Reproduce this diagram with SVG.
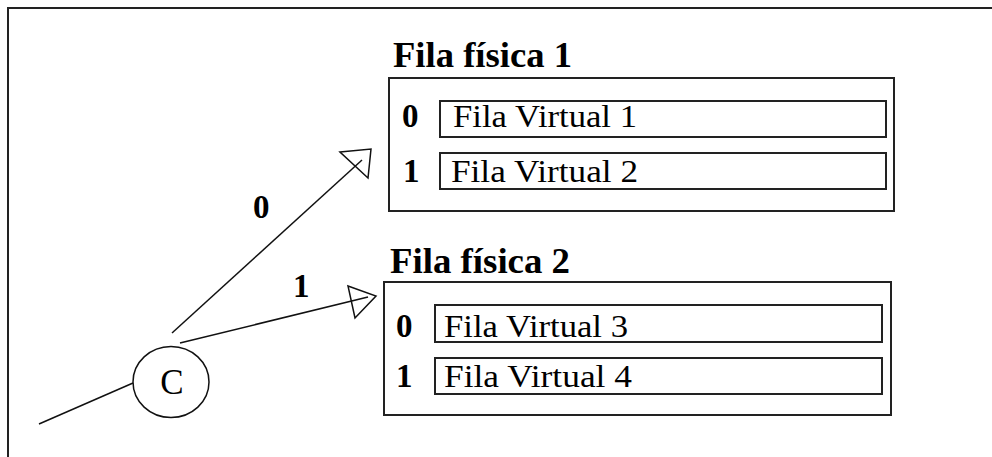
<svg xmlns="http://www.w3.org/2000/svg" width="992" height="457" viewBox="0 0 992 457">
<style>
.frame{fill:none;stroke:#222;stroke-width:2}
.box{fill:none;stroke:#222;stroke-width:2}
.cell{fill:none;stroke:#222;stroke-width:2}
.ln{fill:none;stroke:#111;stroke-width:1.5}
.head{fill:none;stroke:#111;stroke-width:1.5;stroke-linejoin:miter}
.title{font-family:"Liberation Serif",serif;font-weight:bold;font-size:35px;fill:#000}
.idx{font-family:"Liberation Serif",serif;font-weight:bold;font-size:33px;fill:#000}
.vq{font-family:"Liberation Serif",serif;font-size:31px;fill:#000}
.lbl{font-family:"Liberation Serif",serif;font-weight:bold;font-size:33px;fill:#000}
.cl{font-family:"Liberation Serif",serif;font-size:35px;fill:#000}
</style>
<rect width="992" height="457" fill="#fff"/>
<path class="frame" d="M8,457 V8 H992"/>
<g id="fisica1">
<text class="title" x="393" y="67" textLength="179" lengthAdjust="spacingAndGlyphs">Fila física 1</text>
<rect class="box" x="389" y="78" width="505" height="133"/>
<g id="virtual1">
<text class="idx" x="402" y="127">0</text>
<rect class="cell" x="440" y="101" width="446" height="36"/>
<text class="vq" x="453" y="127" textLength="184" lengthAdjust="spacingAndGlyphs">Fila Virtual 1</text>
</g>
<g id="virtual2">
<text class="idx" x="403" y="182">1</text>
<rect class="cell" x="440" y="153" width="446" height="36"/>
<text class="vq" x="451" y="182" textLength="187" lengthAdjust="spacingAndGlyphs">Fila Virtual 2</text>
</g>
</g>
<g id="fisica2">
<text class="title" x="390" y="273" textLength="180" lengthAdjust="spacingAndGlyphs">Fila física 2</text>
<rect class="box" x="384" y="282" width="507" height="133"/>
<g id="virtual3">
<text class="idx" x="396" y="337">0</text>
<rect class="cell" x="435" y="305" width="447" height="37"/>
<text class="vq" x="444" y="337" textLength="184" lengthAdjust="spacingAndGlyphs">Fila Virtual 3</text>
</g>
<g id="virtual4">
<text class="idx" x="396" y="387">1</text>
<rect class="cell" x="435" y="358" width="447" height="36"/>
<text class="vq" x="444" y="387" textLength="188" lengthAdjust="spacingAndGlyphs">Fila Virtual 4</text>
</g>
</g>
<g id="nodeC">
<ellipse class="ln" cx="171" cy="382" rx="38" ry="35.5"/>
<text class="cl" x="172" y="394" text-anchor="middle">C</text>
</g>
<g id="connectors">
<line class="ln" x1="39" y1="424" x2="133" y2="383"/>
<line class="ln" x1="172" y1="333" x2="362" y2="160"/>
<polygon class="head" points="340,152 371,149 368,178"/>
<text class="lbl" x="253" y="218">0</text>
<line class="ln" x1="180" y1="343" x2="368" y2="297"/>
<polygon class="head" points="348,286 376,296 355,318"/>
<text class="lbl" x="293" y="297">1</text>
</g>
</svg>
